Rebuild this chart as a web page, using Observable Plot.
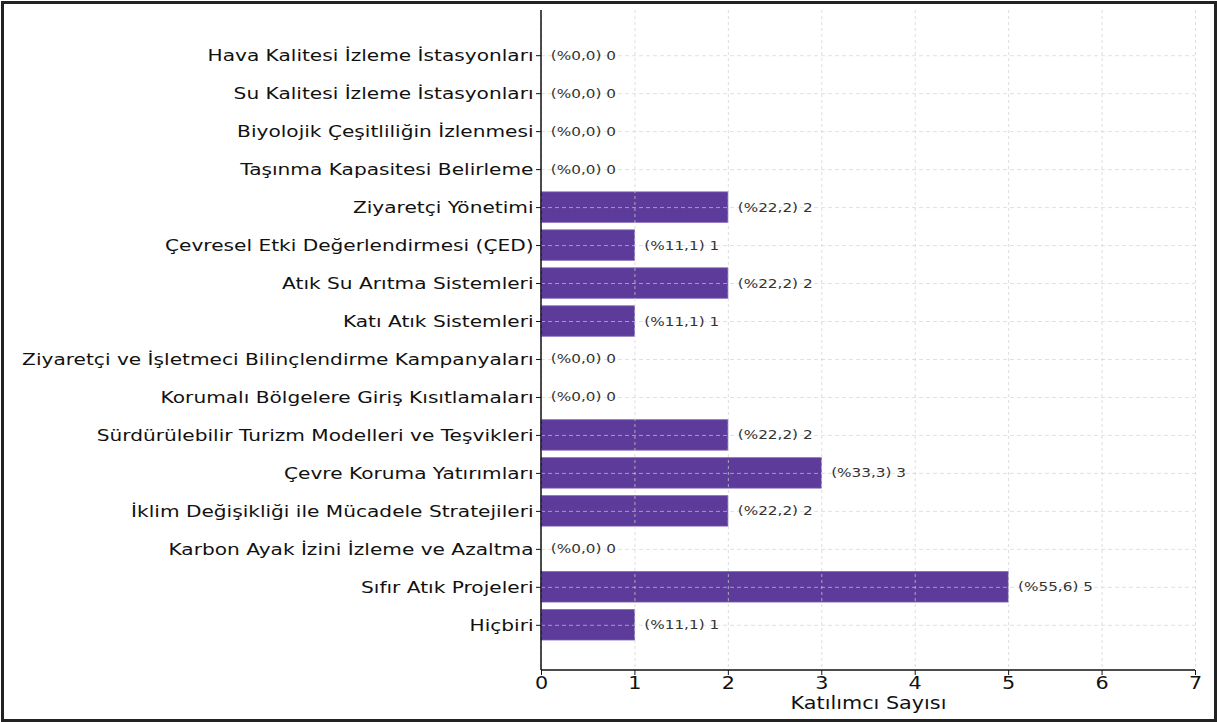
<!DOCTYPE html>
<html>
<head>
<meta charset="utf-8">
<script src="https://cdn.jsdelivr.net/npm/d3@7"></script>
<script src="https://cdn.jsdelivr.net/npm/@observablehq/plot@0.6"></script>
<style>
  html, body { margin: 0; padding: 0; background: #fff; }
  #wrap { position: relative; width: 1217px; height: 722px; overflow: hidden; }
  #frame { position: absolute; left: 1px; top: 1px; width: 1210px; height: 715px; border: 3px solid #222; pointer-events: none; }
  svg { display: block; }
</style>
</head>
<body>
<div id="wrap"><div id="frame"></div></div>
<script>
const categories = [
  "Hava Kalitesi İzleme İstasyonları",
  "Su Kalitesi İzleme İstasyonları",
  "Biyolojik Çeşitliliğin İzlenmesi",
  "Taşınma Kapasitesi Belirleme",
  "Ziyaretçi Yönetimi",
  "Çevresel Etki Değerlendirmesi (ÇED)",
  "Atık Su Arıtma Sistemleri",
  "Katı Atık Sistemleri",
  "Ziyaretçi ve İşletmeci Bilinçlendirme Kampanyaları",
  "Korumalı Bölgelere Giriş Kısıtlamaları",
  "Sürdürülebilir Turizm Modelleri ve Teşvikleri",
  "Çevre Koruma Yatırımları",
  "İklim Değişikliği ile Mücadele Stratejileri",
  "Karbon Ayak İzini İzleme ve Azaltma",
  "Sıfır Atık Projeleri",
  "Hiçbiri"
];
const counts = [0, 0, 0, 0, 2, 1, 2, 1, 0, 0, 2, 3, 2, 0, 5, 1];
const percents = ["0,0", "0,0", "0,0", "0,0", "22,2", "11,1", "22,2", "11,1", "0,0", "0,0", "22,2", "33,3", "22,2", "0,0", "55,6", "11,1"];
const xTicks = [0, 1, 2, 3, 4, 5, 6, 7];
const xLabel = "Katılımcı Sayısı";

const data = categories.map((c, i) => ({cat: c, n: counts[i], label: `(%${percents[i]}) ${counts[i]}`}));

const font = "DejaVu Sans, sans-serif";
const gridColor = "#d0d0d0";

const chart = Plot.plot({
  width: 1217,
  height: 722,
  marginLeft: 541,
  marginRight: 22,
  marginTop: 10,
  marginBottom: 52,
  style: {fontFamily: font, background: "transparent", color: "#111"},
  x: {domain: [0, 7], ticks: xTicks, label: null},
  y: {domain: categories, paddingInner: 0.2, paddingOuter: 0.79, round: false, label: null},
  marks: [
    Plot.barX(data, {x: "n", y: "cat", fill: "#5c3b9a", stroke: "#7a5cb5", strokeWidth: 0.8}),
    Plot.gridX(xTicks, {stroke: gridColor, strokeOpacity: 0.9, strokeDasharray: "3,3", strokeWidth: 0.8}),
    Plot.tickY(categories, {y: d => d, x1: 0, x2: 7, stroke: gridColor, strokeOpacity: 0.8, strokeDasharray: "4,3", strokeWidth: 0.8}),
    Plot.text(data, {x: d => d.n + 0.1, y: "cat", text: "label", textAnchor: "start", fontSize: 12.5, fill: "#333", fontFamily: font}),
    Plot.axisY({tickSize: 5, tickPadding: 3, fontSize: 16.5, fill: "#111", stroke: "#111", label: null}),
    Plot.axisX({ticks: xTicks, tickSize: 5, tickPadding: 1, fontSize: 17, fill: "#111", label: null, tickFormat: d3.format("d")}),
    Plot.text([xLabel], {frameAnchor: "bottom", dy: 38, fontSize: 17, fill: "#111", fontFamily: font})
  ]
});

const svg = d3.select(chart);
svg.append("line").attr("x1", 541).attr("x2", 1195).attr("y1", 670).attr("y2", 670).attr("stroke", "#111").attr("stroke-width", 1.5);
svg.append("line").attr("x1", 541).attr("x2", 541).attr("y1", 10).attr("y2", 670).attr("stroke", "#111").attr("stroke-width", 1.5);

document.getElementById("wrap").prepend(chart);

// the reference image is horizontally stretched; widen the glyphs to match
const stretch = 1.22;
chart.querySelectorAll("text").forEach(t => {
  const len = t.getComputedTextLength();
  if (len > 0) {
    t.setAttribute("textLength", (len * stretch).toFixed(1));
    t.setAttribute("lengthAdjust", "spacingAndGlyphs");
  }
});
</script>
</body>
</html>
